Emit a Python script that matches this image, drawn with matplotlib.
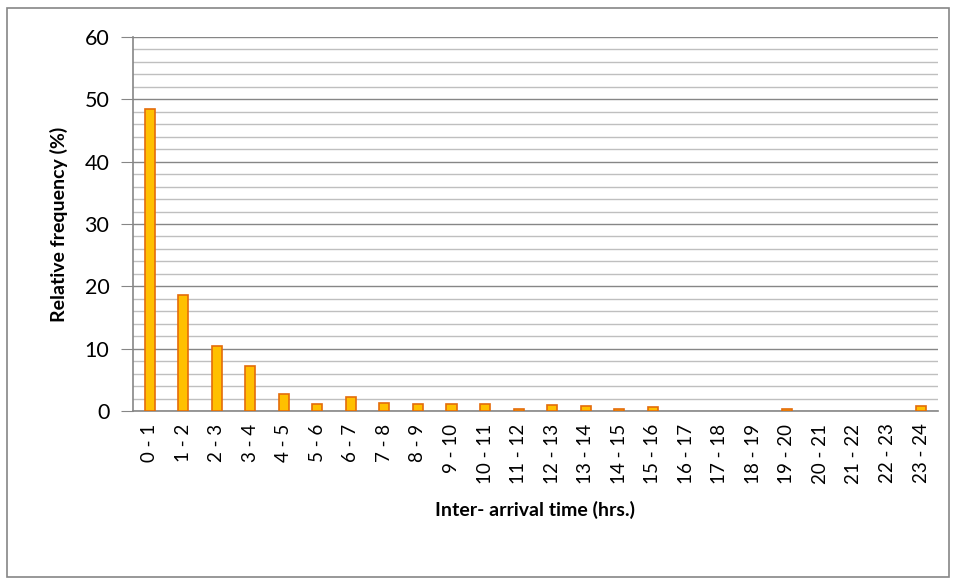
import matplotlib.pyplot as plt
from matplotlib.patches import Rectangle
from matplotlib.ticker import MultipleLocator

# Inter-arrival time bins (hours) and relative frequency (%)
bins = ["0 - 1", "1 - 2", "2 - 3", "3 - 4", "4 - 5", "5 - 6", "6 - 7", "7 - 8",
        "8 - 9", "9 - 10", "10 - 11", "11 - 12", "12 - 13", "13 - 14", "14 - 15",
        "15 - 16", "16 - 17", "17 - 18", "18 - 19", "19 - 20", "20 - 21",
        "21 - 22", "22 - 23", "23 - 24"]
freq = [48.4, 18.6, 10.4, 7.3, 2.8, 1.2, 2.3, 1.3, 1.2, 1.2, 1.2, 0.4,
        1.0, 0.75, 0.4, 0.6, 0, 0, 0, 0.4, 0, 0, 0, 0.8]

plt.rcParams["font.family"] = ["Lato", "DejaVu Sans"]

fig = plt.figure(figsize=(9.56, 5.82), dpi=100)
ax = fig.add_axes([0.139, 0.2938, 0.842, 0.6426])

x = range(len(bins))
# empty bins get no outline
lw = [1.2 if v > 0 else 0 for v in freq]
ax.bar(x, freq, width=0.3, color="#FFC000", edgecolor="#E46C0A", linewidth=lw, zorder=3)

ax.set_xlim(-0.5, len(bins) - 0.5)
ax.set_ylim(0, 60)
ax.yaxis.set_major_locator(MultipleLocator(10))
ax.yaxis.set_minor_locator(MultipleLocator(2))
ax.grid(which="major", axis="y", color="#868686", linewidth=1.0, zorder=1)
ax.grid(which="minor", axis="y", color="#BFBFBF", linewidth=1.0, zorder=1)

ax.set_xticks(list(x))
ax.set_xticklabels(bins, rotation=90, fontsize=13.5)
ax.tick_params(axis="x", length=0, pad=9)
ax.tick_params(axis="y", which="major", length=9, color="#868686", labelsize=15.5, pad=8)
ax.tick_params(axis="y", which="minor", length=0)

for side in ["top", "right"]:
    ax.spines[side].set_visible(False)
for side in ["left", "bottom"]:
    ax.spines[side].set_color("#868686")
    ax.spines[side].set_linewidth(1.2)

ax.set_ylabel("Relative frequency (%)", fontsize=14, fontweight="bold", labelpad=12)
ax.set_xlabel("Inter- arrival time (hrs.)", fontsize=14, fontweight="bold", labelpad=12)

# chart border
fig.patches.append(Rectangle((7 / 956, 1 - 577 / 582), 942 / 956, 569 / 582,
                             transform=fig.transFigure, fill=False,
                             edgecolor="#868686", linewidth=1.2))

fig.savefig("out.png", dpi=100)
